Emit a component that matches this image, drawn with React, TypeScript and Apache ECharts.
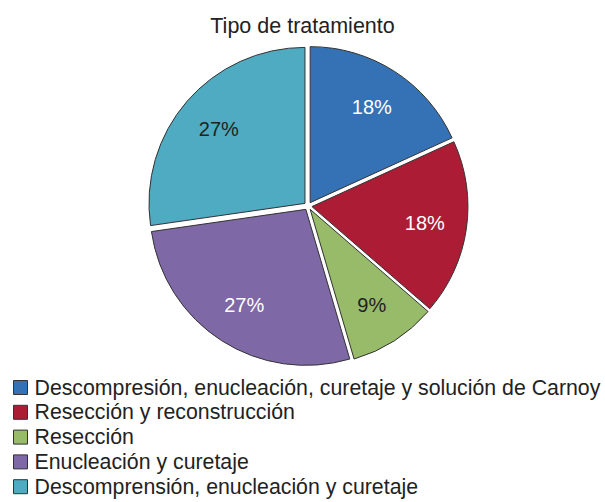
import React, { useEffect, useRef } from "react";
import * as echarts from "echarts";

const categories = [
  "Descompresión, enucleación, curetaje y solución de Carnoy",
  "Resección y reconstrucción",
  "Resección",
  "Enucleación y curetaje",
  "Descomprensión, enucleación y curetaje",
];
const counts = [2, 2, 1, 3, 3];
const sliceColors = ["#3572b5", "#ac1c34", "#97bb68", "#7e68a5", "#4eabc1"];
const labelColors = ["#ffffff", "#ffffff", "#222222", "#ffffff", "#222222"];
const titleText = "Tipo de tratamiento";

export default function App() {
  const ref = useRef<HTMLDivElement>(null);
  useEffect(() => {
    if (!ref.current) return;
    const chart = echarts.init(ref.current, null, { renderer: "svg" });
    const total = counts.reduce((a, b) => a + b, 0);
    const font = "'Liberation Sans', Arial, Helvetica, sans-serif";
    const center = [308, 206];
    const offset = 4;
    chart.setOption({
      animation: false,
      backgroundColor: "#ffffff",
      title: {
        text: titleText,
        left: "center",
        top: 10,
        textStyle: { fontFamily: font, fontSize: 21.5, fontWeight: "normal", color: "#222" },
      },
      legend: {
        orient: "vertical",
        left: 8,
        top: 372,
        height: 160,
        width: 600,
        itemWidth: 14,
        itemHeight: 14,
        itemGap: 3.8,
        selectedMode: false,
        icon: "rect",
        textStyle: { fontFamily: font, fontSize: 21.3, color: "#222", padding: [0, 0, 0, 2] },
        data: categories.map((c, i) => ({
          name: c,
          itemStyle: { color: sliceColors[i], borderColor: "#333", borderWidth: 1 },
        })),
      },
      series: [
        {
          type: "pie",
          center,
          radius: [0, 156],
          startAngle: 90,
          clockwise: true,
          selectedMode: "multiple",
          selectedOffset: offset,
          silent: true,
          label: { show: false },
          labelLine: { show: false },
          itemStyle: { borderColor: "#333", borderWidth: 1 },
          emphasis: { disabled: true },
          data: categories.map((c, i) => ({
            name: c,
            value: counts[i],
            selected: true,
            itemStyle: { color: sliceColors[i] },
          })),
        },
        {
          type: "pie",
          center,
          radius: [66, 156],
          startAngle: 90,
          clockwise: true,
          selectedMode: "multiple",
          selectedOffset: offset,
          silent: true,
          labelLine: { show: false },
          itemStyle: { color: "transparent", borderWidth: 0 },
          emphasis: { disabled: true },
          label: {
            show: true,
            position: "inside",
            fontFamily: font,
            fontSize: 20,
            formatter: (p: any) => Math.round((p.value / total) * 100) + "%",
          },
          data: categories.map((c, i) => ({
            name: c + " (etiqueta)",
            value: counts[i],
            selected: true,
            label: { color: labelColors[i] },
          })),
        },
      ],
    });
    return () => chart.dispose();
  }, []);
  return (
    <div
      ref={ref}
      style={{ position: "absolute", left: 0, top: 0, width: 605, height: 502 }}
    />
  );
}
